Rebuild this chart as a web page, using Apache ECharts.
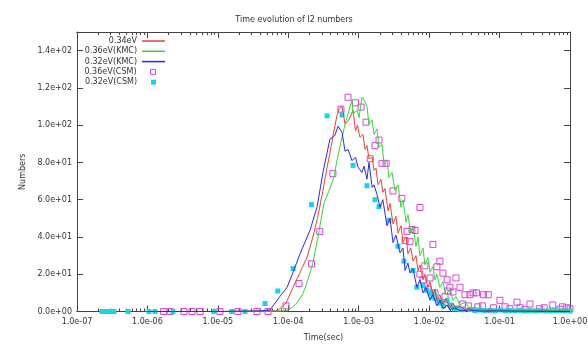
<!DOCTYPE html>
<html>
<head>
<meta charset="utf-8">
<script src="https://cdn.jsdelivr.net/npm/echarts@6/dist/echarts.min.js"></script>
<style>
html,body{margin:0;padding:0;background:#fff;}
#chart{width:588px;height:345px;}
</style>
</head>
<body>
<div id="chart"></div>
<script>
// ---- data: [time (sec), number of I2] ----
const kmc034 = [[1e-6,0],[1e-5,0],[5e-5,0.3],[7.1e-5,0.5],[9.3e-5,4.6],[1.17e-4,13],[1.47e-4,21],[1.84e-4,29],[2.2e-4,39],[2.6e-4,50],[3.1e-4,65],[3.5e-4,76],[3.9e-4,85],[4.4e-4,96],[4.9e-4,105],[5.3e-4,109],[5.8e-4,110],[6.4e-4,100.5],[7.0e-4,102],[7.5e-4,104],[8.3e-4,108],[9.0e-4,97],[9.6e-4,100],[1.04e-3,93.5],[1.15e-3,95],[1.23e-3,87],[1.31e-3,89],[1.40e-3,82],[1.55e-3,82.7],[1.65e-3,75.7],[1.76e-3,77],[1.88e-3,68],[2.07e-3,71],[2.2e-3,64],[2.36e-3,66],[2.61e-3,54],[2.78e-3,58],[3.07e-3,47],[3.38e-3,51],[3.61e-3,42],[3.99e-3,46],[4.26e-3,37],[4.7e-3,40],[5.0e-3,31],[5.5e-3,34],[5.9e-3,27],[6.5e-3,30],[6.95e-3,22],[7.4e-3,25],[8.2e-3,17],[8.7e-3,20],[9.6e-3,13],[1.03e-2,16],[1.13e-2,9],[1.21e-2,12],[1.29e-2,6],[1.42e-2,9],[1.57e-2,4],[1.73e-2,6.5],[1.97e-2,2],[2.18e-2,4.5],[2.4e-2,1.5],[2.74e-2,3],[3.22e-2,0.8],[3.79e-2,2],[4.47e-2,0.5],[5.3e-2,1.2],[7.3e-2,0.4],[0.101,0.8],[0.14,0.3],[0.195,0.5],[0.27,0.2],[0.37,0.4],[0.52,0.2],[0.72,0.3],[1.0,0.2]];

const kmc036 = [[1e-6,0],[1e-5,0],[7e-5,0.2],[1.0e-4,0.5],[1.33e-4,4.6],[1.62e-4,9.7],[1.9e-4,17],[2.24e-4,26],[2.64e-4,40],[3.21e-4,58],[3.9e-4,66],[4.45e-4,72],[4.9e-4,81],[5.6e-4,91],[6.4e-4,100.5],[7.05e-4,106],[8.0e-4,113.5],[8.3e-4,106],[9.5e-4,108],[1.01e-3,104],[1.11e-3,115],[1.19e-3,113.5],[1.31e-3,110],[1.40e-3,100.5],[1.55e-3,102.7],[1.65e-3,95],[1.82e-3,98],[1.94e-3,88],[2.14e-3,89.8],[2.29e-3,79],[2.52e-3,81],[2.69e-3,72],[2.97e-3,74.6],[3.28e-3,65],[3.61e-3,68],[3.99e-3,56],[4.26e-3,60],[4.7e-3,48],[5.0e-3,52],[5.5e-3,42],[5.9e-3,46],[6.5e-3,35],[6.95e-3,40],[7.4e-3,30],[8.2e-3,34],[8.7e-3,25],[9.6e-3,29],[1.03e-2,21],[1.13e-2,24],[1.21e-2,17],[1.29e-2,20],[1.42e-2,13],[1.57e-2,16],[1.73e-2,9],[1.97e-2,12],[2.18e-2,6],[2.4e-2,8],[2.74e-2,3.5],[3.22e-2,5],[3.79e-2,1.5],[4.47e-2,2.5],[5.3e-2,0.8],[7.3e-2,1.2],[0.101,0.4],[0.195,0.6],[0.37,0.2],[1.0,0.3]];

const kmc032 = [[1e-6,0],[1e-5,0],[4e-5,0.3],[5.5e-5,0.8],[7.6e-5,8],[9.6e-5,13],[1.17e-4,21],[1.47e-4,31],[2.03e-4,43.5],[2.56e-4,56],[3.1e-4,74.5],[3.9e-4,92.5],[4.6e-4,94.6],[5.1e-4,99.5],[5.8e-4,96],[6.4e-4,86],[7.05e-4,87],[8.0e-4,81],[9.0e-4,82.7],[9.8e-4,77.4],[1.11e-3,74.6],[1.19e-3,78],[1.31e-3,71],[1.40e-3,80],[1.55e-3,66.6],[1.65e-3,68],[1.82e-3,62.8],[2.0e-3,56],[2.2e-3,60],[2.52e-3,46],[2.78e-3,50],[3.07e-3,37],[3.38e-3,41],[3.86e-3,31.5],[4.26e-3,34],[4.55e-3,22],[5.0e-3,26],[5.35e-3,20.7],[5.9e-3,23],[6.7e-3,13],[7.4e-3,17],[8.2e-3,10],[9.0e-3,13],[1.03e-2,6],[1.13e-2,9],[1.29e-2,3],[1.42e-2,6],[1.57e-2,1.5],[1.8e-2,3.5],[1.97e-2,0.8],[2.3e-2,2],[2.74e-2,0.3],[3.79e-2,0.8],[5.3e-2,0.2],[0.101,0.3],[1.0,0]];

const csm036 = [[1.7e-6,0],[2.1e-6,0],[3.3e-6,0],[4.3e-6,0],[5.6e-6,0],[1.07e-5,0],[1.93e-5,0],[3.6e-5,0],[5.15e-5,0],[9.3e-5,3],[1.42e-4,15],[2.14e-4,25.6],[2.8e-4,43],[4.3e-4,74],[5.6e-4,108.6],[7.05e-4,115],[9.0e-4,112],[1.08e-3,109.7],[1.27e-3,101.6],[1.46e-3,82],[1.70e-3,89],[1.94e-3,92],[2.14e-3,79.5],[2.45e-3,79.5],[3.07e-3,64.7],[4.1e-3,60.7],[7.4e-3,55.8],[4.55e-3,38],[4.85e-3,43],[5.35e-3,37.5],[5.7e-3,44],[6.3e-3,43.5],[7.4e-3,20],[8.2e-3,17],[8.7e-3,24.5],[9.6e-3,12],[1.03e-2,18],[1.13e-2,36],[1.21e-2,10],[1.29e-2,24],[1.42e-2,27],[1.57e-2,20.6],[1.68e-2,8],[1.8e-2,17],[1.85e-2,11],[1.97e-2,13],[2.18e-2,10.5],[2.4e-2,18],[2.74e-2,13],[3.0e-2,4],[3.22e-2,9],[3.6e-2,3],[3.79e-2,9],[4.2e-2,10],[4.7e-2,10],[4.9e-2,2.5],[5.7e-2,3],[5.9e-2,9],[6.9e-2,9],[8.2e-2,2],[0.101,6],[0.12,2.5],[0.14,1.5],[0.177,5],[0.195,2],[0.23,1],[0.27,4],[0.37,1.5],[0.43,2],[0.57,3.5],[0.72,1.2],[0.78,2.5],[0.9,2],[1.0,1.5]];

const csm032 = [[2.26e-7,0],[2.58e-7,0],[2.94e-7,0],[3.35e-7,0],[5.3e-7,0],[1.05e-6,0],[1.28e-6,0],[2.3e-6,0],[8.8e-6,0],[1.58e-5,0],[2.43e-5,0],[4.67e-5,4.3],[7.1e-5,11],[1.17e-4,23],[2.14e-4,57.4],[3.55e-4,105],[5.8e-4,105.5],[8.3e-4,78.4],[1.31e-3,67.5],[1.70e-3,60],[1.94e-3,56.3],[2.69e-3,49],[3.61e-3,35],[4.4e-3,27],[5.9e-3,22],[6.7e-3,13],[8.2e-3,14],[9.3e-3,11.5],[1.03e-2,10],[1.1e-2,8],[1.17e-2,10],[1.21e-2,7],[1.35e-2,6],[1.42e-2,4.6],[1.5e-2,5],[1.6e-2,3],[1.8e-2,6],[1.97e-2,3.5],[2.1e-2,2.5],[2.3e-2,1.5],[2.5e-2,2],[2.74e-2,1],[3.02e-2,1],[3.79e-2,1],[4.47e-2,0.5],[5.3e-2,0.8],[6.2e-2,0.5],[7.3e-2,0.6],[8.6e-2,0.4],[0.101,0.8],[0.12,0.4],[0.14,0.5],[0.165,0.3],[0.195,0.6],[0.23,0.3],[0.27,0.4],[0.32,0.3],[0.37,0.5],[0.44,0.3],[0.52,0.3],[0.61,0.4],[0.72,0.4],[0.85,0.3],[1.0,0.3]];

const seriesNames = ['0.34eV', '0.36eV(KMC)', '0.32eV(KMC)', '0.36eV(CSM)', '0.32eV(CSM)'];
const xTicks = [1e-7, 1e-6, 1e-5, 1e-4, 1e-3, 1e-2, 1e-1, 1e0];
const yTicks = [0, 20, 40, 60, 80, 100, 120, 140];

const colors = ['#e8403a', '#3ccf3c', '#2a2ae0', '#d846d8', '#1ad3e3'];
const FONT = 'DejaVu Sans';
const TXT = '#333';

function sci(v) {
  if (v === 0) return '0.0e+00';
  let e = Math.floor(Math.log10(Math.abs(v)) + 1e-9);
  let m = v / Math.pow(10, e);
  if (Math.round(m * 10) / 10 >= 10) { m /= 10; e++; }
  const a = Math.abs(e);
  return m.toFixed(1) + 'e' + (e < 0 ? '-' : '+') + (a < 10 ? '0' : '') + a;
}

const minorX = [];
for (let d = -7; d < 0; d++) for (let m = 2; m <= 9; m++) minorX.push(m * Math.pow(10, d));

const axisLine = { lineStyle: { color: '#444', width: 1 } };

function xAx(pos, ticks, len, labels) {
  return {
    type: 'log', logBase: 10, min: 1e-7, max: 1, position: pos,
    axisLine: axisLine,
    axisTick: { show: true, inside: true, length: len, customValues: ticks, lineStyle: { color: '#444' } },
    axisLabel: labels ? { show: true, customValues: xTicks, formatter: sci, fontFamily: FONT, fontSize: 8, color: TXT, margin: 6 } : { show: false },
    splitLine: { show: false },
    name: labels ? 'Time(sec)' : '', nameLocation: 'middle', nameGap: 22,
    nameTextStyle: { fontFamily: FONT, fontSize: 8, color: TXT }
  };
}

const legendItems = seriesNames.map((name, i) => {
  const isLine = i < 3;
  return {
    show: true,
    right: isLine ? 588 - 165 : 588 - 156,
    top: 37 + i * 10.3,
    orient: 'horizontal',
    align: 'right',
    itemWidth: isLine ? 23 : 5,
    itemHeight: isLine ? 1.5 : 5,
    itemGap: 0,
    padding: 0,
    textStyle: { fontFamily: FONT, fontSize: 8, color: TXT, padding: isLine ? 0 : [0, 9, 0, 0] },
    data: [isLine
      ? { name: name, icon: 'rect', itemStyle: { color: colors[i] } }
      : (i === 3
        ? { name: name, icon: 'rect', itemStyle: { color: 'rgba(0,0,0,0)', borderColor: colors[i], borderWidth: 1 } }
        : { name: name, icon: 'rect', itemStyle: { color: colors[i] } })]
  };
});

const chart = echarts.init(document.getElementById('chart'), null, { renderer: 'canvas' });
chart.setOption({
  animation: false,
  backgroundColor: '#fff',
  title: {
    text: 'Time evolution of I2 numbers', left: 'center', top: 11,
    textStyle: { fontFamily: FONT, fontSize: 8, fontWeight: 'normal', color: TXT }
  },
  legend: legendItems,
  grid: { left: 77, right: 18, top: 32, bottom: 33.5, containLabel: false, outerBoundsMode: 'none' },
  xAxis: [
    xAx('bottom', xTicks, 6, true),
    xAx('bottom', minorX, 3, false),
    xAx('top', xTicks, 6, false),
    xAx('top', minorX, 3, false)
  ],
  yAxis: [
    {
      type: 'value', min: 0, max: 150, interval: 20, position: 'left',
      axisLine: { show: true, lineStyle: { color: '#444' } },
      axisTick: { show: true, inside: true, length: 6, customValues: yTicks, lineStyle: { color: '#444' } },
      axisLabel: { customValues: yTicks, formatter: sci, fontFamily: FONT, fontSize: 8, color: TXT, margin: 5 },
      splitLine: { show: false },
      name: 'Numbers', nameLocation: 'middle', nameGap: 40, nameRotate: 90,
      nameTextStyle: { fontFamily: FONT, fontSize: 8, color: TXT }
    },
    {
      type: 'value', min: 0, max: 150, interval: 20, position: 'right',
      axisLine: { show: true, lineStyle: { color: '#444' } },
      axisTick: { show: true, inside: true, length: 6, customValues: yTicks, lineStyle: { color: '#444' } },
      axisLabel: { show: false },
      splitLine: { show: false }
    }
  ],
  series: [
    { name: seriesNames[0], type: 'line', data: kmc034, showSymbol: false, lineStyle: { color: colors[0], width: 1 }, itemStyle: { color: colors[0] } },
    { name: seriesNames[1], type: 'line', data: kmc036, showSymbol: false, lineStyle: { color: colors[1], width: 1 }, itemStyle: { color: colors[1] } },
    { name: seriesNames[2], type: 'line', data: kmc032, showSymbol: false, lineStyle: { color: colors[2], width: 1 }, itemStyle: { color: colors[2] } },
    { name: seriesNames[3], type: 'scatter', data: csm036, symbol: 'rect', symbolSize: 6,
      itemStyle: { color: 'rgba(0,0,0,0)', borderColor: colors[3], borderWidth: 1, opacity: 1 } },
    { name: seriesNames[4], type: 'scatter', data: csm032, symbol: 'rect', symbolSize: 5,
      itemStyle: { color: colors[4], opacity: 1 } }
  ]
});
</script>
</body>
</html>
